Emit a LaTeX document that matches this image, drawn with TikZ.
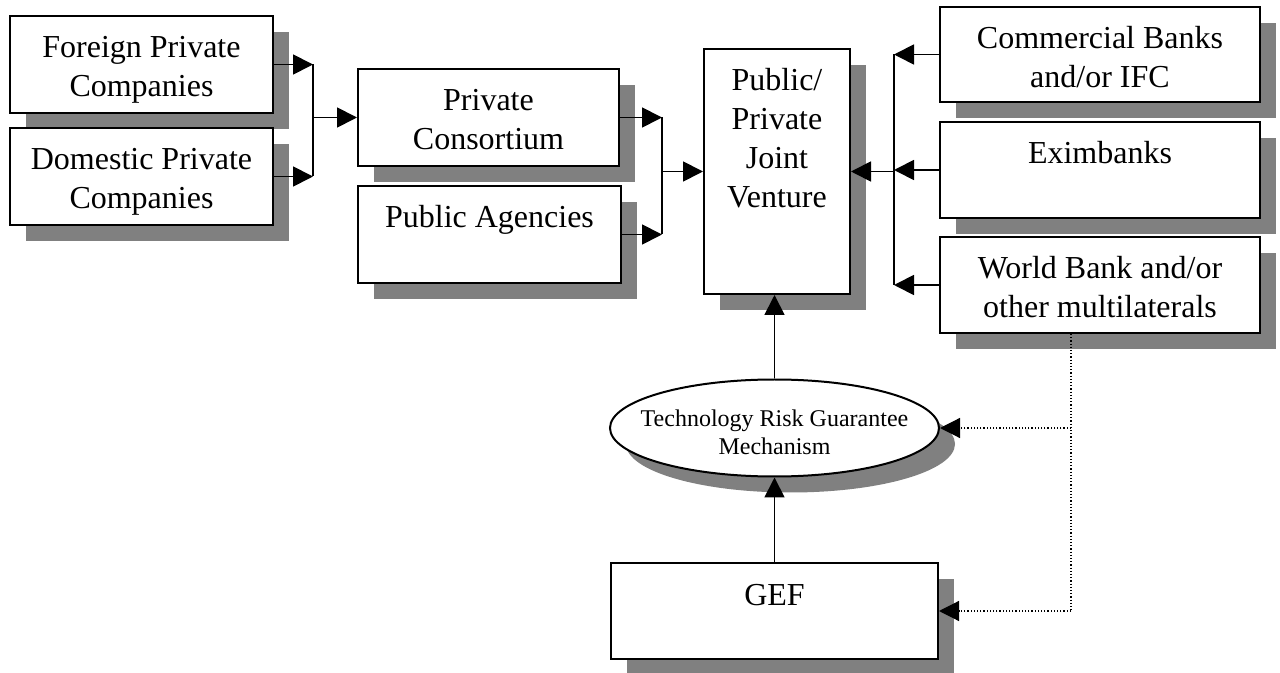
\documentclass[tikz,border=0pt]{standalone}
\usepackage{fontspec}
\setmainfont{Liberation Serif}
\usetikzlibrary{shapes.geometric}
\usetikzlibrary{shadows}
\usetikzlibrary{arrows.meta}

\newcommand{\fundtext}[3]{\parbox[c][#2][t]{#1}{\centering\fontsize{16}{19.5}\selectfont\rule{0pt}{21pt}#3}}

\tikzset{
  fund/.style = {draw, line width=1pt, fill=white, inner sep=0pt,
    drop shadow = {shadow xshift=8pt, shadow yshift=-8pt, fill=black!50, opacity=1}},
  arr/.style = {line width=0.9pt, -{Triangle[length=10pt, width=10pt]}},
  link/.style = {line width=0.9pt}
}

\begin{document}
\begin{tikzpicture}[x=0.5pt, y=-0.5pt]
     \useasboundingbox (0,0) rectangle (1280,673);
     % private side
     \node[fund] (foreign) at (141.5,64.5) {\fundtext{131.5pt}{48.5pt}{Foreign Private\\Companies}};
     \node[fund] (domestic) at (141.5,176.5) {\fundtext{131.5pt}{48.5pt}{Domestic Private\\Companies}};
     \node[fund] (consort) at (488.5,117.5) {\fundtext{130.5pt}{48.5pt}{Private\\Consortium}};
     \node[fund] (agency) at (489.5,234.5) {\fundtext{131.5pt}{48.5pt}{Public Agencies}};
     \node[fund] (venture) at (777,171.5) {\fundtext{73pt}{122.5pt}{Public/\\Private\\Joint\\Venture}};
     % lenders
     \node[fund] (cb) at (1100,54.5) {\fundtext{160pt}{47.5pt}{Commercial Banks\\and/or IFC}};
     \node[fund] (exim) at (1100,170) {\fundtext{160pt}{48pt}{Eximbanks}};
     \node[fund] (wb) at (1100,285) {\fundtext{160pt}{48pt}{World Bank and/or\\other multilaterals}};
     % guarantee
     \node[fund, ellipse, minimum width=164.5pt, minimum height=48.5pt] (trgm) at (774.5,428) {};
     \node[align=center, font=\fontsize{12}{14}\selectfont] (trgmtext) at (774.5,432) {Technology Risk Guarantee\\Mechanism};
     \node[fund] (gef) at (774.5,611) {\fundtext{163.5pt}{48pt}{GEF}};

     \coordinate (j1) at (313,119);
     \coordinate (j2) at (662,171.5);
     \coordinate (j3) at (894,171.5);
     \coordinate (dv) at (1071,428);

     \draw[arr] (foreign.east) -- (foreign.east -| j1);
     \draw[arr] (domestic.east) -- (domestic.east -| j1);
     \draw[link] (foreign.east -| j1) -- (domestic.east -| j1);
     \draw[arr] (j1 |- consort.west) -- (consort.west);

     \draw[arr] (consort.east) -- (consort.east -| j2);
     \draw[arr] (agency.east) -- (agency.east -| j2);
     \draw[link] (consort.east -| j2) -- (agency.east -| j2);
     \draw[arr] (j2) -- (venture.west);

     \foreach \b in {cb,exim,wb}
       \draw[arr] (\b.west) -- (\b.west -| j3);
     \draw[link] (cb.west -| j3) -- (wb.west -| j3);
     \draw[arr] (j3) -- (venture.east);

     \draw[arr] (trgm.north) -- (trgm.north |- venture.south);
     \draw[arr] (gef.north) -- (trgm.south);

     \draw[densely dotted, line width=0.6pt] (wb.south -| dv) -- (dv |- gef.east);
     \draw[densely dotted, line width=0.6pt, -{Triangle[length=10pt, width=10pt]}] (dv) -- (trgm.east);
     \draw[densely dotted, line width=0.6pt, -{Triangle[length=10pt, width=10pt]}] (dv |- gef.east) -- (gef.east);
\end{tikzpicture}
\end{document}
